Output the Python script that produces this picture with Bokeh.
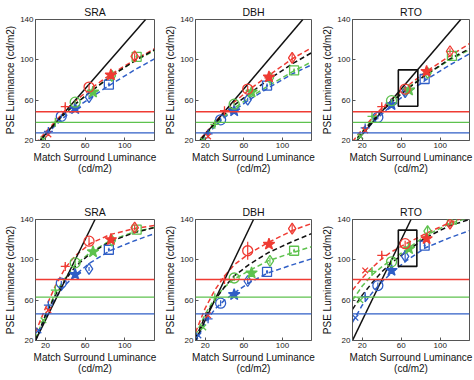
from bokeh.plotting import figure
from bokeh.layouts import gridplot
from bokeh.models import Span, FixedTicker, Range1d, ColumnDataSource
from bokeh.embed import file_html
from bokeh.resources import INLINE

# ---------------- data ----------------
TITLES = ["SRA", "DBH", "RTO"]
X_TICKS = [20, 60, 100]
Y_TICKS = [20, 60, 100, 140]
X_LABEL = "Match Surround Luminance\n(cd/m2)"
Y_LABEL = "PSE Luminance (cd/m2)"

BLUE_X = [13, 23, 36, 50, 64, 84]
GREEN_X = [18, 30, 50, 68, 87, 112]
RED_X = [23, 40, 64, 86, 110]

# top row
SRA_T_BLUE = [14, 29, 44, 51.5, 63, 75.5]
SRA_T_GREEN = [21, 38, 58, 68, 84, 103]
SRA_T_RED = [26, 53.5, 73, 85, 103.5]
DBH_T_BLUE = [14, 26.5, 40.5, 49.5, 60.5, 74.5]
DBH_T_GREEN = [20, 36, 56, 68, 82, 89.5]
DBH_T_RED = [24, 49.5, 71, 83, 102]
RTO_T_BLUE = [16, 32.5, 43, 55.5, 68, 81]
RTO_T_GREEN = [24, 44, 59.5, 70, 87, 104]
RTO_T_RED = [30, 53.5, 71, 88.5, 108.5]
# bottom row
SRA_B_BLUE = [30, 55, 77, 85.5, 91, 110]
SRA_B_GREEN = [40, 70, 97, 108, 119, 130]
SRA_B_RED = [50, 93.5, 118.5, 120, 132]
DBH_B_BLUE = [25, 41.5, 57, 65.5, 79, 88]
DBH_B_GREEN = [33, 62.5, 82, 87, 99, 109]
DBH_B_RED = [45, 80.5, 109, 115.5, 131]
RTO_B_BLUE = [42.5, 63.5, 74.5, 89.5, 103.5, 114]
RTO_B_GREEN = [60, 88.5, 98, 111, 128.5, 140]
RTO_B_RED = [89.5, 104.5, 116, 121, 136]

# error half-widths
SRA_T_BLUE_ERR = [1, 1.5, 2, 1.5, 2, 2]
SRA_T_GREEN_ERR = [1, 1.5, 2, 2, 2, 2]
SRA_T_RED_ERR = [1, 2, 2.5, 2, 3]
DBH_T_BLUE_ERR = [1, 1.5, 2, 1.5, 2, 2]
DBH_T_GREEN_ERR = [1, 1.5, 2, 2, 2, 2]
DBH_T_RED_ERR = [1, 2, 3, 2, 4]
RTO_T_BLUE_ERR = [1, 1.5, 2, 1.5, 2.5, 2]
RTO_T_GREEN_ERR = [1, 1.5, 2, 2, 2, 2]
RTO_T_RED_ERR = [1, 2, 2.5, 2, 3]
SRA_B_BLUE_ERR = [1, 2, 2, 2, 2, 2]
SRA_B_GREEN_ERR = [1, 2, 3, 2, 2, 3]
SRA_B_RED_ERR = [1, 2, 4, 3, 3]
DBH_B_BLUE_ERR = [1, 2, 3, 2, 3, 2]
DBH_B_GREEN_ERR = [1, 2, 3, 2, 3, 2]
DBH_B_RED_ERR = [1, 2, 9, 3, 4]
RTO_B_BLUE_ERR = [1, 2, 3, 2, 5, 3]
RTO_B_GREEN_ERR = [1, 2, 3, 2, 4, 3]
RTO_B_RED_ERR = [1, 2, 3, 2, 4]

# dashed fitted curves, sampled at CURVE_X
CURVE_X = [10, 20, 30, 40, 50, 65, 85, 110, 130]
SRA_T_FIT_RED = [17, 28, 39, 50, 59, 71, 85, 100, 111]
SRA_T_FIT_GREEN = [15, 26, 37, 47, 56, 68, 83, 99, 109]
SRA_T_FIT_BLUE = [14, 25, 35, 44, 52, 62, 75, 90, 101]
SRA_T_FIT_BLACK = [15, 26, 37, 47, 56, 68, 83, 99, 110]
DBH_T_FIT_RED = [16, 27, 38, 49, 58, 70, 84, 101, 112]
DBH_T_FIT_GREEN = [15, 25, 35, 44, 52, 62, 74, 88, 98]
DBH_T_FIT_BLUE = [14, 24, 34, 43, 50, 60, 72, 86, 95]
DBH_T_FIT_BLACK = [15, 26, 37, 46, 55, 66, 80, 96, 107]
RTO_T_FIT_RED = [19, 31, 42, 52, 61, 73, 88, 104, 116]
RTO_T_FIT_GREEN = [17, 29, 40, 50, 59, 71, 85, 100, 110]
RTO_T_FIT_BLUE = [15, 26, 37, 46, 55, 66, 80, 95, 106]
RTO_T_FIT_BLACK = [16, 28, 39, 49, 58, 70, 85, 101, 111]
SRA_B_FIT_RED = [28, 52, 74, 92, 104, 116, 125, 131, 134]
SRA_B_FIT_GREEN = [22, 46, 67, 82, 95, 107, 119, 128, 132]
SRA_B_FIT_BLUE = [20, 42, 62, 75, 85, 97, 109, 119, 126]
SRA_B_FIT_BLACK = [20, 45, 65, 80, 93, 106, 118, 127, 132]
DBH_B_FIT_RED = [28, 52, 70, 84, 95, 106, 117, 129, 136]
DBH_B_FIT_GREEN = [25, 46, 62, 73, 81, 89, 99, 107, 113]
DBH_B_FIT_BLUE = [18, 38, 51, 60, 67, 77, 87, 95, 101]
DBH_B_FIT_BLACK = [22, 44, 60, 73, 84, 95, 107, 118, 126]
RTO_B_FIT_RED = [70, 82, 92, 101, 108, 116, 126, 137, 144]
RTO_B_FIT_GREEN = [60, 74, 85, 93, 100, 110, 124, 136, 142]
RTO_B_FIT_BLUE = [38, 55, 67, 78, 87, 99, 112, 122, 129]
RTO_B_FIT_BLACK = [51, 65, 77, 88, 97, 108, 122, 134, 140]

# horizontal reference levels (red, green, blue)
TOP_LEVELS = [48.5, 38, 27.5]
BOTTOM_LEVELS = [80.5, 63, 46.5]

# solid black lines
TOP_LINE_X = [14.6, 121]
TOP_LINE_Y = [20, 140]
BOTTOM_LINE_X = [10, 70]
BOTTOM_LINE_Y = [20, 140]

# RTO boxes
RTO_T_BOX_X = [57, 77]
RTO_T_BOX_Y = [54, 90]
RTO_B_BOX_X = [57, 76]
RTO_B_BOX_Y = [93.5, 129.5]

# ---------------- style ----------------
RED = "#ef3b33"
GREEN = "#5ec24e"
BLUE = "#2f5ec6"
BLACK = "#111111"
AX = "#555555"
FONT = "Liberation Sans"
MARKERS = ["x", "cross", "circle", "star", "diamond", "square_dot"]
MSIZE = {"x": 8, "cross": 9, "circle": 10, "star": 12, "diamond": 11, "square_dot": 9}

WIDTHS = [162, 157, 154]
LEFTS = [35, 30, 31]
RIGHTS = [8, 8, 4]
HEIGHTS = [200, 179]
TOPS = [19, 19]
BOTTOMS = [60, 39]


def style_axis(ax, ticks, label):
    ax.ticker = FixedTicker(ticks=ticks)
    ax.axis_label = label
    ax.axis_label_text_font = FONT
    ax.axis_label_text_font_size = "10px"
    ax.axis_label_text_font_style = "normal"
    ax.axis_label_text_color = "#111111"
    ax.axis_label_text_line_height = 1.0
    ax.axis_label_standoff = 1
    ax.major_label_text_font = FONT
    ax.major_label_text_font_size = "8px"
    ax.major_label_text_color = "#222222"
    ax.major_label_standoff = 2
    ax.major_tick_in = 3
    ax.major_tick_out = 0
    ax.minor_tick_line_color = None
    ax.axis_line_color = AX
    ax.major_tick_line_color = AX


def panel(row, col, sets, fits, levels, line_x, line_y, box=None):
    p = figure(width=WIDTHS[col], height=HEIGHTS[row], x_range=Range1d(10, 130),
               y_range=Range1d(20, 140), output_backend="svg", toolbar_location=None,
               title=TITLES[col], min_border_left=LEFTS[col], min_border_right=RIGHTS[col],
               min_border_top=TOPS[row], min_border_bottom=BOTTOMS[row])
    p.title.align = "center"
    p.title.text_font = FONT
    p.title.text_font_size = "10.5px"
    p.title.text_font_style = "normal"
    p.title.text_color = "#111111"
    p.title.standoff = 3
    p.xgrid.visible = False
    p.ygrid.visible = False
    p.outline_line_color = AX
    p.background_fill_color = "white"
    p.border_fill_color = "white"
    style_axis(p.below[0], X_TICKS, X_LABEL)
    style_axis(p.left[0], Y_TICKS, Y_LABEL)

    for lev, c in zip(levels, [RED, GREEN, BLUE]):
        p.add_layout(Span(location=lev, dimension="width", line_color=c, line_width=1.3))

    for fy, c in zip(fits, [BLUE, GREEN, RED, BLACK]):
        p.line(CURVE_X, fy, line_color=c, line_width=1.5, line_dash="5 3")

    p.line(line_x, line_y, line_color=BLACK, line_width=1.5)

    if box is not None:
        bx, by = box
        p.quad(left=[bx[0]], right=[bx[1]], bottom=[by[0]], top=[by[1]],
               fill_alpha=0, line_color=BLACK, line_width=1.6)

    for xs, ys, es, c in sets:
        p.segment(x0=xs, x1=xs, y0=[y - e for y, e in zip(ys, es)],
                  y1=[y + e for y, e in zip(ys, es)], line_color=c, line_width=1.2)
        marks = MARKERS[:len(xs)]
        src = ColumnDataSource(dict(
            x=xs, y=ys, m=marks,
            s=[MSIZE[m] for m in marks],
            fa=[1.0 if m == "star" else 0.0 for m in marks]))
        p.scatter(x="x", y="y", marker="m", size="s", source=src, line_color=c,
                  fill_color=c, fill_alpha="fa", line_width=1.3)
    return p


p1 = panel(0, 0, [(BLUE_X, SRA_T_BLUE, SRA_T_BLUE_ERR, BLUE), (GREEN_X, SRA_T_GREEN, SRA_T_GREEN_ERR, GREEN),
                  (RED_X, SRA_T_RED, SRA_T_RED_ERR, RED)],
           [SRA_T_FIT_BLUE, SRA_T_FIT_GREEN, SRA_T_FIT_RED, SRA_T_FIT_BLACK], TOP_LEVELS, TOP_LINE_X, TOP_LINE_Y)
p2 = panel(0, 1, [(BLUE_X, DBH_T_BLUE, DBH_T_BLUE_ERR, BLUE), (GREEN_X, DBH_T_GREEN, DBH_T_GREEN_ERR, GREEN),
                  (RED_X, DBH_T_RED, DBH_T_RED_ERR, RED)],
           [DBH_T_FIT_BLUE, DBH_T_FIT_GREEN, DBH_T_FIT_RED, DBH_T_FIT_BLACK], TOP_LEVELS, TOP_LINE_X, TOP_LINE_Y)
p3 = panel(0, 2, [(BLUE_X, RTO_T_BLUE, RTO_T_BLUE_ERR, BLUE), (GREEN_X, RTO_T_GREEN, RTO_T_GREEN_ERR, GREEN),
                  (RED_X, RTO_T_RED, RTO_T_RED_ERR, RED)],
           [RTO_T_FIT_BLUE, RTO_T_FIT_GREEN, RTO_T_FIT_RED, RTO_T_FIT_BLACK], TOP_LEVELS, TOP_LINE_X, TOP_LINE_Y,
           box=(RTO_T_BOX_X, RTO_T_BOX_Y))
p4 = panel(1, 0, [(BLUE_X, SRA_B_BLUE, SRA_B_BLUE_ERR, BLUE), (GREEN_X, SRA_B_GREEN, SRA_B_GREEN_ERR, GREEN),
                  (RED_X, SRA_B_RED, SRA_B_RED_ERR, RED)],
           [SRA_B_FIT_BLUE, SRA_B_FIT_GREEN, SRA_B_FIT_RED, SRA_B_FIT_BLACK], BOTTOM_LEVELS, BOTTOM_LINE_X, BOTTOM_LINE_Y)
p5 = panel(1, 1, [(BLUE_X, DBH_B_BLUE, DBH_B_BLUE_ERR, BLUE), (GREEN_X, DBH_B_GREEN, DBH_B_GREEN_ERR, GREEN),
                  (RED_X, DBH_B_RED, DBH_B_RED_ERR, RED)],
           [DBH_B_FIT_BLUE, DBH_B_FIT_GREEN, DBH_B_FIT_RED, DBH_B_FIT_BLACK], BOTTOM_LEVELS, BOTTOM_LINE_X, BOTTOM_LINE_Y)
p6 = panel(1, 2, [(BLUE_X, RTO_B_BLUE, RTO_B_BLUE_ERR, BLUE), (GREEN_X, RTO_B_GREEN, RTO_B_GREEN_ERR, GREEN),
                  (RED_X, RTO_B_RED, RTO_B_RED_ERR, RED)],
           [RTO_B_FIT_BLUE, RTO_B_FIT_GREEN, RTO_B_FIT_RED, RTO_B_FIT_BLACK], BOTTOM_LEVELS, BOTTOM_LINE_X, BOTTOM_LINE_Y,
           box=(RTO_B_BOX_X, RTO_B_BOX_Y))

grid = gridplot([[p1, p2, p3], [p4, p5, p6]], toolbar_location=None)

open("out.html", "w").write(file_html(grid, INLINE))
